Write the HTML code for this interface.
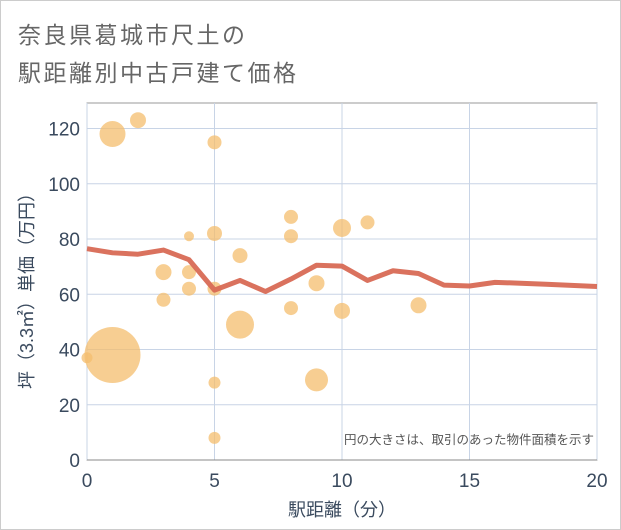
<!DOCTYPE html>
<html><head><meta charset="utf-8"><style>
body{margin:0;background:#fff;}
#wrap{position:relative;width:621px;height:530px;font-family:"Liberation Sans","Noto Sans CJK JP",sans-serif;}
.t{position:absolute;left:18px;font-size:23px;color:#666;letter-spacing:2.5px;white-space:nowrap;}
</style></head><body>
<div id="wrap">
<div class="t" style="top:16px">奈良県葛城市尺土の</div>
<div class="t" style="top:54px">駅距離別中古戸建て価格</div>
<svg id="svg" width="621" height="530" style="position:absolute;left:0;top:0">
<rect x="0.5" y="0.5" width="620" height="529" fill="none" stroke="#ccc"/>
</svg>
</div>
<script>
const xTicks=[0,5,10,15,20];
const yTicks=[0,20,40,60,80,100,120];
const bubbleX=[0,1,1,2,3,3,4,4,4,5,5,5,5,5,6,6,8,8,8,9,9,10,10,11,13];
const bubbleY=[37,38,118,123,68,58,81,68,62,115,82,62,28,8,74,49,88,81,55,64,29,84,54,86,56];
const bubbleR=[6,28,13,8,8,7,5,7,7,7,7.5,7,6,6,7.5,14,7,7,7,8,11.5,9,8,7,8];
const lineX=[0,1,2,3,4,5,6,7,8,9,10,11,12,13,14,15,16,17,18,19,20];
const lineY=[76.5,75,74.5,76,72.5,61.5,65,61,65.5,70.5,70.2,65,68.5,67.5,63.3,63,64.3,64,63.6,63.2,62.8];
const X0=87,X1=597,Y0=460,Y1=103;
const sx=v=>X0+(X1-X0)*v/20;
const sy=v=>Y0-(Y0-128.5)*v/120;
const svg=document.getElementById('svg');
const NS='http://www.w3.org/2000/svg';
function mk(tag,attrs){const e=document.createElementNS(NS,tag);for(const k in attrs)e.setAttribute(k,attrs[k]);svg.appendChild(e);return e;}
const bg=mk('rect',{x:X0,y:Y1,width:X1-X0,height:Y0-Y1,fill:'#fff',stroke:'#999'});


xTicks.forEach(t=>{
 const g=mk('line',{x1:sx(t),x2:sx(t),y1:Y1,y2:Y0,stroke:'#c8d4e6'});
 
 
 const l=mk('text',{x:sx(t),y:487,'text-anchor':'middle','font-size':'19',fill:'#3a4a5e'});
 l.textContent=t;
 
 
});
yTicks.forEach(t=>{
 const g=mk('line',{x1:X0,x2:X1,y1:sy(t),y2:sy(t),stroke:'#c8d4e6'});
 
 
 const l=mk('text',{x:80,y:sy(t)+7,'text-anchor':'end','font-size':'19',fill:'#3a4a5e'});
 l.textContent=t;
 
 
});
mk('line',{x1:X0,x2:X1,y1:Y0,y2:Y0,stroke:'#888'});
bubbleX.forEach((v,i)=>{
 const c=mk('circle',{cx:sx(v),cy:sy(bubbleY[i]),r:bubbleR[i],fill:'rgba(244,190,110,0.75)'});
 if(i===0){c.setAttribute('stroke','#fff');c.setAttribute('stroke-width','1');}
 
 
});
const p=mk('polyline',{points:lineX.map((v,i)=>sx(v)+','+sy(lineY[i])).join(' '),fill:'none',stroke:'#d86a55','stroke-width':'5','stroke-linejoin':'round',opacity:'0.95'});


const note=mk('text',{x:594,y:444,'text-anchor':'end','font-size':'12.5',fill:'#555'});
note.textContent='円の大きさは、取引のあった物件面積を示す';


const xt=mk('text',{x:sx(10),y:516,'text-anchor':'middle','font-size':'18',fill:'#3a4a5e'});
xt.textContent='駅距離（分）';


const yt=mk('text',{x:0,y:0,'text-anchor':'middle','font-size':'18',fill:'#3a4a5e',transform:'translate(33,'+((Y0+Y1)/2+5)+') rotate(-90)'});
yt.textContent='坪（3.3㎡）単価（万円）';


</script>
</body></html>
